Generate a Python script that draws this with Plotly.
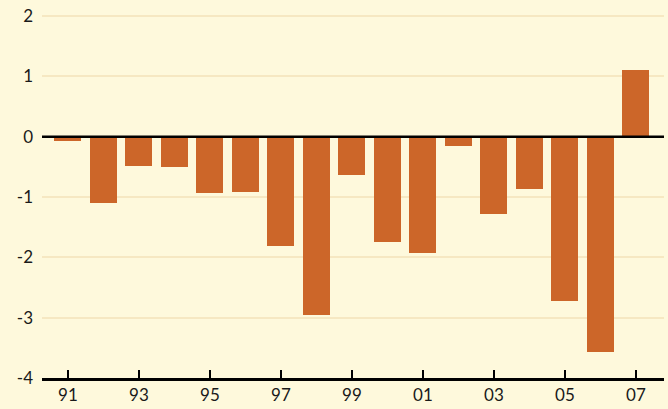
import plotly.graph_objects as go

years = ["91", "92", "93", "94", "95", "96", "97", "98", "99", "00", "01", "02", "03", "04", "05", "06", "07"]
values = [-0.08, -1.10, -0.49, -0.51, -0.93, -0.92, -1.82, -2.95, -0.64, -1.75, -1.92, -0.16, -1.28, -0.87, -2.72, -3.57, 1.11]
y_ticks = [-4, -3, -2, -1, 0, 1, 2]
y_tick_labels = ["-4", "-3", "-2", "-1", "0", "1", "2"]

x = list(range(len(years)))

fig = go.Figure()
fig.add_trace(go.Bar(x=x, y=values, width=0.76, marker=dict(color="#CC6629", line=dict(width=0)),
                     hoverinfo="skip"))

fig.update_layout(
    width=668, height=409,
    margin=dict(l=42, r=4, t=14, b=27),
    paper_bgcolor="#FEF9DC", plot_bgcolor="#FEF9DC",
    showlegend=False,
    font=dict(family="Lato", size=17, color="#1a1a1a"),
    bargap=0,
)
fig.update_xaxes(
    range=[-0.73, 16.79],
    tickvals=x[::2], ticktext=years[::2],
    ticks="inside", ticklen=8, tickwidth=2, tickcolor="black",
    showline=True, linecolor="black", linewidth=2.5,
    showgrid=False, zeroline=False, fixedrange=True,
)
fig.update_yaxes(
    range=[-4, 2.0328], tickvals=y_ticks, ticktext=y_tick_labels,
    showgrid=True, gridcolor="#F6E8C2", gridwidth=2,
    zeroline=True, zerolinecolor="black", zerolinewidth=2,
    showline=False, ticks="", ticklabelstandoff=8, fixedrange=True,
)
fig.add_shape(type="line", xref="paper", yref="y", x0=0, x1=1, y0=0, y1=0,
              line=dict(color="black", width=2.5), layer="above")

fig.write_html("out.html", config={"displayModeBar": False},
               post_script="document.body.style.margin='0';document.body.style.overflow='hidden';")
